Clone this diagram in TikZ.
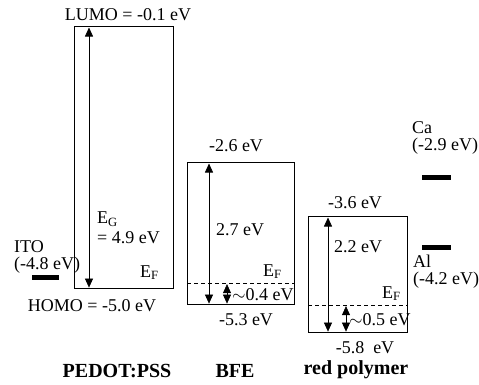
\documentclass[tikz,border=0pt]{standalone}
\usepackage{fontspec}
\setmainfont{Liberation Serif}
\usetikzlibrary{arrows.meta, positioning, calc}
\tikzset{
  levelbox/.style={
    draw, line width=1.1pt,
    anchor=north west, inner sep=0pt,
  },
  gaparrow/.style={{Triangle[length=9pt, width=8pt]}-{Triangle[length=9pt, width=8pt]}, line width=0.6pt},
  fermiline/.style={line width=0.6pt, dash pattern=on 4pt off 3pt},
  metalbar/.style={fill=black, inner sep=0pt, minimum height=5pt},
  lvl/.style={font=\fontsize{18}{17}\selectfont, inner sep=0pt},
  matname/.style={font=\fontsize{20}{20}\selectfont\bfseries, inner sep=0pt},
}

\begin{document}
\begin{tikzpicture}[x=1pt, y=-1pt]
  \useasboundingbox (0,0) rectangle (479,384);

  % PEDOT:PSS
  \node[levelbox, minimum width=99pt, minimum height=262pt] (pedot) at (74,26) {};
  \draw[gaparrow] ([xshift=15pt, yshift=1.5pt]pedot.south west)
    -- ([xshift=15pt, yshift=-1.5pt]pedot.north west);
  \node[lvl, anchor=base] (lumo) at (128,20.5) {LUMO = -0.1 eV};
  \node[lvl, anchor=base] (homo) at (92,311) {HOMO = -5.0 eV};
  \node[lvl, anchor=base west, align=left] (eg) at (97,243.5)
    {E\textsubscript{G}\\[3pt]= 4.9 eV};
  \node[lvl, anchor=base west] (pedotF) at (140,277) {E\textsubscript{F}};
  \node[matname, anchor=base] (pedotname) at (117,377) {PEDOT:PSS};

  % ITO
  \node[metalbar, minimum width=27pt] (ito) at (45.5,277) {};
  \node[lvl, anchor=base west, align=left] (itolbl) at (14,269)
    {ITO\\(-4.8 eV)};

  % BFE
  \node[levelbox, minimum width=107pt, minimum height=142pt] (bfe) at (187,162) {};
  \coordinate (bfeF) at ([yshift=22pt]bfe.south west);
  \draw[fermiline] (bfeF) -- (bfeF -| bfe.east);
  \draw[gaparrow] ([xshift=22pt, yshift=1.5pt]bfe.south west)
    -- ([xshift=22pt, yshift=-1.5pt]bfe.north west);
  \draw[gaparrow] ([xshift=40pt, yshift=1.5pt]bfe.south west)
    -- ([xshift=40pt, yshift=-1pt]bfeF);
  \node[lvl, anchor=base] (bfetop) at (236,151) {-2.6 eV};
  \node[lvl, anchor=base west] (bfegap) at (216,235) {2.7 eV};
  \node[lvl, anchor=base west] (bfeEF) at (263,276) {E\textsubscript{F}};
  \node[lvl, anchor=base west] (bfeoff) at (232,300) {$\sim$0.4 eV};
  \node[lvl, anchor=base] (bfebot) at (246,325) {-5.3 eV};
  \node[matname, anchor=base] (bfename) at (235,377) {BFE};

  % red polymer
  \node[levelbox, minimum width=99pt, minimum height=116pt] (red) at (308,216) {};
  \coordinate (redF) at ([yshift=28pt]red.south west);
  \draw[fermiline] (redF) -- (redF -| red.east);
  \draw[gaparrow] ([xshift=20pt, yshift=1.5pt]red.south west)
    -- ([xshift=20pt, yshift=-1.5pt]red.north west);
  \draw[gaparrow] ([xshift=38pt, yshift=1.5pt]red.south west)
    -- ([xshift=38pt, yshift=-1pt]redF);
  \node[lvl, anchor=base] (redtop) at (355,208) {-3.6 eV};
  \node[lvl, anchor=base west] (redgap) at (334,252) {2.2 eV};
  \node[lvl, anchor=base west] (redEF) at (382,298) {E\textsubscript{F}};
  \node[lvl, anchor=base west] (redoff) at (349,325) {$\sim$0.5 eV};
  \node[lvl, anchor=base] (redbot) at (365,353) {-5.8~~eV};
  \node[matname, anchor=base] (redname) at (356,374) {red polymer};

  % Ca and Al
  \node[metalbar, minimum width=29pt] (ca) at (436.5,177) {};
  \node[lvl, anchor=base west, align=left] (calbl) at (412,150)
    {Ca\\(-2.9 eV)};
  \node[metalbar, minimum width=29pt] (al) at (436.5,247) {};
  \node[lvl, anchor=base west, align=left] (allbl) at (413,284)
    {Al\\(-4.2 eV)};

\end{tikzpicture}
\end{document}
